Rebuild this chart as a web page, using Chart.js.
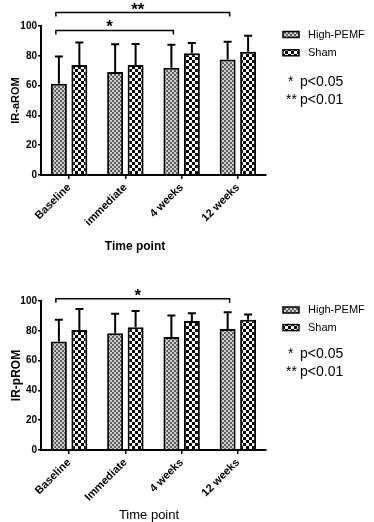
<!DOCTYPE html>
<html>
<head>
<meta charset="utf-8">
<script src="https://cdn.jsdelivr.net/npm/chart.js@4.4.1/dist/chart.umd.min.js"></script>
<style>
  html, body { margin: 0; padding: 0; background: #fff; }
  #wrap { position: relative; width: 374px; height: 522px; }
  canvas { position: absolute; left: 0; }
</style>
</head>
<body>
<div id="wrap">
  <canvas id="aromChart" width="374" height="260" style="top:0"></canvas>
  <canvas id="promChart" width="374" height="262" style="top:260px"></canvas>
</div>
<script>
const timePointsA = ['Baseline', 'immediate', '4 weeks', '12 weeks'];
const timePointsP = ['Baseline', 'Immediate', '4 weeks', '12 weeks'];
const seriesNames = ['High-PEMF', 'Sham'];
const yTicks = [0, 20, 40, 60, 80, 100];

// IR-aROM (mean, SD)
const aromPemf = [61.3, 69.1, 72.0, 77.6];
const aromPemfSd = [18.3, 18.6, 15.5, 11.9];
const aromSham = [73.8, 73.8, 81.7, 82.8];
const aromShamSd = [15.2, 14.1, 6.9, 10.7];

// IR-pROM (mean, SD)
const promPemf = [72.9, 78.3, 75.8, 81.2];
const promPemfSd = [14.6, 13.2, 14.4, 11.2];
const promSham = [80.5, 82.3, 86.6, 87.5];
const promShamSd = [14.1, 11.0, 5.1, 3.5];

// significance: [from category, to category, stars]
const aromSig = [[0, 2, '*'], [0, 3, '**']];
const promSig = [[0, 3, '*']];
const pNotes = [['*', 'p<0.05'], ['**', 'p<0.01']];

const FONT = "'Liberation Sans', Arial, sans-serif";
Chart.defaults.font.family = FONT;
Chart.defaults.color = '#000';

function checker(cell, dark, light) {
  const c = document.createElement('canvas');
  c.width = c.height = cell * 2;
  const g = c.getContext('2d');
  g.fillStyle = light;
  g.fillRect(0, 0, cell * 2, cell * 2);
  g.fillStyle = dark;
  g.fillRect(0, 0, cell, cell);
  g.fillRect(cell, cell, cell, cell);
  return g.createPattern(c, 'repeat');
}
const pemfFill = checker(2, '#5e5e5e', '#d0d0d0');
const shamFill = checker(3, '#000', '#fff');

// upper error bars (SD)
const errorBars = {
  id: 'errorBars',
  afterDatasetsDraw(chart) {
    const ctx = chart.ctx, y = chart.scales.y;
    ctx.save();
    ctx.strokeStyle = '#000';
    ctx.lineWidth = 2;
    chart.data.datasets.forEach((ds, i) => {
      chart.getDatasetMeta(i).data.forEach((bar, j) => {
        const top = y.getPixelForValue(ds.data[j] + ds.sd[j]);
        ctx.beginPath();
        ctx.moveTo(bar.x, bar.y);
        ctx.lineTo(bar.x, top);
        ctx.moveTo(bar.x - 4, top);
        ctx.lineTo(bar.x + 4, top);
        ctx.stroke();
      });
    });
    ctx.restore();
  }
};

const brackets = {
  id: 'brackets',
  afterDraw(chart, args, opts) {
    const ctx = chart.ctx, y = chart.scales.y;
    const bars = chart.getDatasetMeta(0).data;
    ctx.save();
    ctx.strokeStyle = '#000';
    ctx.fillStyle = '#000';
    ctx.lineWidth = 1.5;
    ctx.font = 'bold 17px ' + FONT;
    ctx.textAlign = 'center';
    opts.pairs.forEach(([a, b, stars], k) => {
      const yy = y.getPixelForValue(opts.levels[k]);
      const x1 = bars[a].x - 3, x2 = bars[b].x + 2;
      ctx.beginPath();
      ctx.moveTo(x1, yy + 4);
      ctx.lineTo(x1, yy);
      ctx.lineTo(x2, yy);
      ctx.lineTo(x2, yy + 4);
      ctx.stroke();
      ctx.fillText(stars, (x1 + x2) / 2 - 5, yy + 2);
    });
    ctx.restore();
  }
};

const sideLegend = {
  id: 'sideLegend',
  afterDraw(chart, args, opts) {
    const ctx = chart.ctx;
    ctx.save();
    ctx.textBaseline = 'middle';
    chart.data.datasets.forEach((ds, i) => {
      const cy = opts.top + i * opts.gap;
      ctx.fillStyle = ds.backgroundColor;
      ctx.fillRect(283, cy - 3, 16, 6);
      ctx.strokeStyle = '#000';
      ctx.lineWidth = 1.5;
      ctx.strokeRect(283, cy - 3, 16, 6);
      ctx.fillStyle = '#000';
      ctx.font = '11px ' + FONT;
      ctx.fillText(ds.label, 308, cy);
    });
    ctx.font = '14px ' + FONT;
    pNotes.forEach(([s, t], i) => {
      const cy = opts.notesTop + i * opts.gap;
      ctx.fillText(s, s.length > 1 ? 286 : 288, cy);
      ctx.fillText(t, 300, cy);
    });
    ctx.restore();
  }
};

const xTitle = {
  id: 'xTitle',
  afterDraw(chart, args, opts) {
    const ctx = chart.ctx;
    ctx.save();
    ctx.font = opts.font;
    ctx.fillStyle = '#000';
    ctx.textAlign = 'center';
    ctx.textBaseline = 'middle';
    ctx.fillText(opts.text, opts.x, opts.y);
    ctx.restore();
  }
};

function buildChart(id, labels, pemf, pemfSd, sham, shamSd, cfg) {
  return new Chart(document.getElementById(id), {
    type: 'bar',
    data: {
      labels: labels,
      datasets: [
        { label: seriesNames[0], data: pemf, sd: pemfSd, backgroundColor: pemfFill, borderColor: '#000', borderWidth: 2 },
        { label: seriesNames[1], data: sham, sd: shamSd, backgroundColor: shamFill, borderColor: '#000', borderWidth: 2 }
      ]
    },
    options: {
      responsive: false,
      animation: false,
      devicePixelRatio: 1,
      layout: { padding: { left: 0, right: 108, top: cfg.top, bottom: 0 } },
      datasets: { bar: { categoryPercentage: 0.728, barPercentage: 0.78 } },
      plugins: {
        legend: { display: false },
        tooltip: { enabled: false },
        brackets: { pairs: cfg.sig, levels: cfg.levels },
        sideLegend: { top: cfg.legendTop, notesTop: cfg.notesTop, gap: cfg.gap },
        xTitle: cfg.xTitle
      },
      scales: {
        x: {
          afterFit: s => { s.height = cfg.xHeight; },
          ticks: { font: { size: 11, weight: 'bold' }, maxRotation: 45, minRotation: 45, autoSkip: false, padding: 2 },
          grid: { drawOnChartArea: false, drawTicks: true, tickLength: 4, color: '#000', lineWidth: 1.5, offset: false },
          border: { display: true, color: '#000', width: 2 }
        },
        y: {
          min: 0,
          max: 100,
          afterFit: s => { s.width = 41; },
          afterBuildTicks: s => { s.ticks = yTicks.map(v => ({ value: v })); },
          ticks: { font: { size: 10, weight: 'bold' }, padding: 1 },
          grid: { drawOnChartArea: false, drawTicks: true, tickLength: 3, color: '#000', lineWidth: 1.5 },
          border: { display: true, color: '#000', width: 2 },
          title: { display: true, text: cfg.yTitle, font: { size: cfg.yTitleSize, weight: 'bold' }, padding: { top: 9, bottom: 0 } }
        }
      }
    },
    plugins: [errorBars, brackets, sideLegend, xTitle]
  });
}

buildChart('aromChart', timePointsA, aromPemf, aromPemfSd, aromSham, aromShamSd, {
  top: 26, xHeight: 85, sig: aromSig, levels: [97, 109],
  legendTop: 34.5, notesTop: 82, gap: 18.3,
  yTitle: 'IR-aROM', yTitleSize: 11,
  xTitle: { text: 'Time point', font: 'bold 12px ' + FONT, x: 135, y: 247 }
});

buildChart('promChart', timePointsP, promPemf, promPemfSd, promSham, promShamSd, {
  top: 41, xHeight: 72, sig: promSig, levels: [101.5],
  legendTop: 50, notesTop: 94.3, gap: 17.6,
  yTitle: 'IR-pROM', yTitleSize: 12,
  xTitle: { text: 'Time point', font: '13px ' + FONT, x: 149, y: 255 }
});
</script>
</body>
</html>
